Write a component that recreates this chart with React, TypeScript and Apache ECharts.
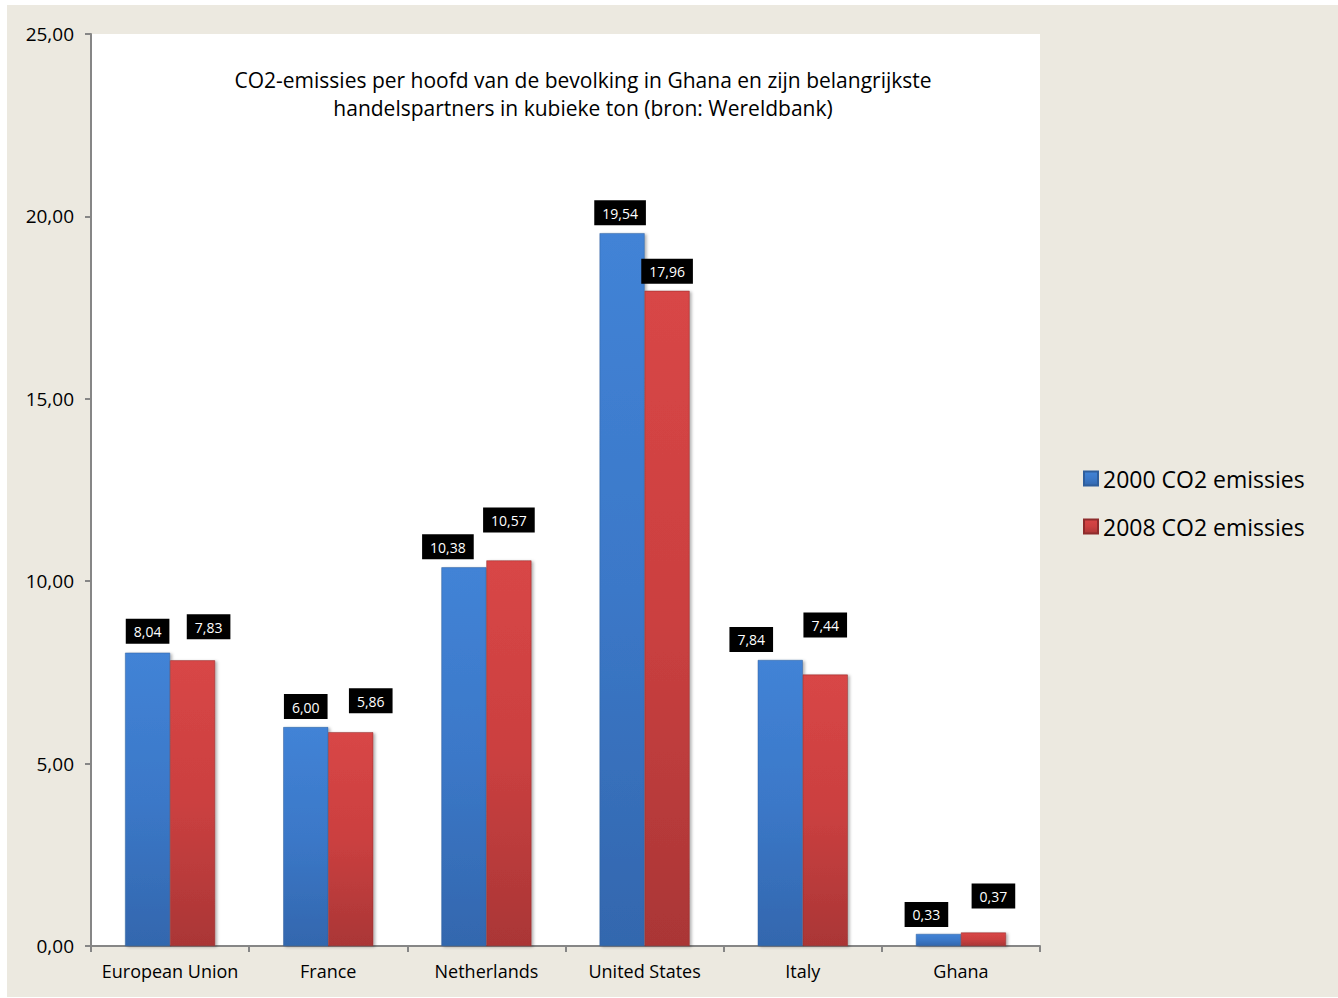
import React, { useEffect, useRef } from "react";
import * as echarts from "echarts";

const categories = ["European Union", "France", "Netherlands", "United States", "Italy", "Ghana"];
const series2000 = [8.04, 6.0, 10.38, 19.54, 7.84, 0.33];
const series2008 = [7.83, 5.86, 10.57, 17.96, 7.44, 0.37];
const seriesNames = ["2000 CO2 emissies", "2008 CO2 emissies"];
const titleLines = [
  "CO2-emissies per hoofd van de bevolking in Ghana en zijn belangrijkste",
  "handelspartners in kubieke ton (bron: Wereldbank)",
];
// label placement tweaks (as positioned in the original)
const offX2000 = [0, 0, -16, -2, -29, -12];
const dist2000 = [9, 8, 8, 8, 8, 7];
const offX2008 = [16, 20, 0, 0, 0, 10];
const dist2008 = [21, 19, 28, 7, 37, 24];

const FONT = "'Open Sans', sans-serif";
const fmt = (v: number) => v.toFixed(2).replace(".", ",");

export default function App() {
  const ref = useRef<HTMLDivElement>(null);
  useEffect(() => {
    document.body.style.margin = "0";
    if (!ref.current) return;
    const chart = echarts.init(ref.current, undefined, { renderer: "svg" });
    const grad = (top: string, mid: string, bot: string) =>
      new echarts.graphic.LinearGradient(0, 0, 0, 1, [
        { offset: 0, color: top },
        { offset: 0.5, color: mid },
        { offset: 1, color: bot },
      ]);
    const blue = grad("#4283d6", "#3b78c8", "#3367ae");
    const red = grad("#d84646", "#cb4040", "#aa3636");
    const labelBase = {
      show: true,
      position: "top",
      backgroundColor: "#000",
      color: "#fff",
      fontFamily: FONT,
      fontSize: 14,
      padding: [6, 8, 5, 8],
      formatter: (p: any) => fmt(p.value),
    };
    const mkData = (vals: number[], offs: number[], dists: number[]) =>
      vals.map((v, i) => ({
        value: v,
        label: { ...labelBase, offset: [offs[i], 0], distance: dists[i] },
      }));
    chart.setOption({
      animation: false,
      backgroundColor: "#ECE9E0",
      textStyle: { fontFamily: FONT },
      grid: {
        left: 84,
        top: 29,
        right: 298,
        bottom: 51,
        show: true,
        backgroundColor: "#ffffff",
        borderWidth: 0,
        containLabel: false,
      },
      graphic: [
        {
          type: "text",
          x: 576,
          y: 61,
          style: {
            text: titleLines.join("\n"),
            align: "center",
            verticalAlign: "top",
            fontFamily: FONT,
            fontSize: 21,
            lineHeight: 28,
            fill: "#000",
          },
        },
      ],
      legend: {
        orient: "vertical",
        left: 1071,
        top: 457,
        itemWidth: 14,
        itemHeight: 14,
        itemGap: 25,
        icon: "rect",
        textStyle: { fontFamily: FONT, fontSize: 23, color: "#000" },
        data: seriesNames,
      },
      xAxis: {
        type: "category",
        data: categories,
        axisLine: { lineStyle: { color: "#868686", width: 2 } },
        axisTick: { show: true, interval: 0, length: 6, lineStyle: { color: "#868686", width: 2 } },
        axisLabel: { color: "#000", fontSize: 18, fontFamily: FONT, margin: 16, interval: 0 },
      },
      yAxis: {
        type: "value",
        min: 0,
        max: 25,
        interval: 5,
        splitLine: { show: false },
        axisLine: { show: true, lineStyle: { color: "#868686", width: 2 } },
        axisTick: { show: true, length: 6, lineStyle: { color: "#868686", width: 2 } },
        axisLabel: {
          color: "#000",
          fontSize: 19,
          fontFamily: FONT,
          margin: 17,
          formatter: (v: number) => fmt(v),
        },
      },
      series: [
        {
          name: seriesNames[0],
          type: "bar",
          barWidth: 45,
          barGap: "0%",
          itemStyle: {
            color: blue,
            borderColor: "#2f5e9c",
            borderWidth: 0.5,
            shadowBlur: 3,
            shadowOffsetX: 2,
            shadowOffsetY: 1,
            shadowColor: "rgba(0,0,0,0.3)",
          },
          data: mkData(series2000, offX2000, dist2000),
        },
        {
          name: seriesNames[1],
          type: "bar",
          barWidth: 45,
          barGap: "0%",
          itemStyle: {
            color: red,
            borderColor: "#8e2c2c",
            borderWidth: 0.5,
            shadowBlur: 3,
            shadowOffsetX: 2,
            shadowOffsetY: 1,
            shadowColor: "rgba(0,0,0,0.3)",
          },
          data: mkData(series2008, offX2008, dist2008),
        },
      ],
    });
    return () => chart.dispose();
  }, []);
  return (
    <div style={{ position: "relative", width: 1338, height: 998, background: "#fff" }}>
      <div ref={ref} style={{ position: "absolute", left: 7, top: 5, width: 1331, height: 992 }} />
    </div>
  );
}
